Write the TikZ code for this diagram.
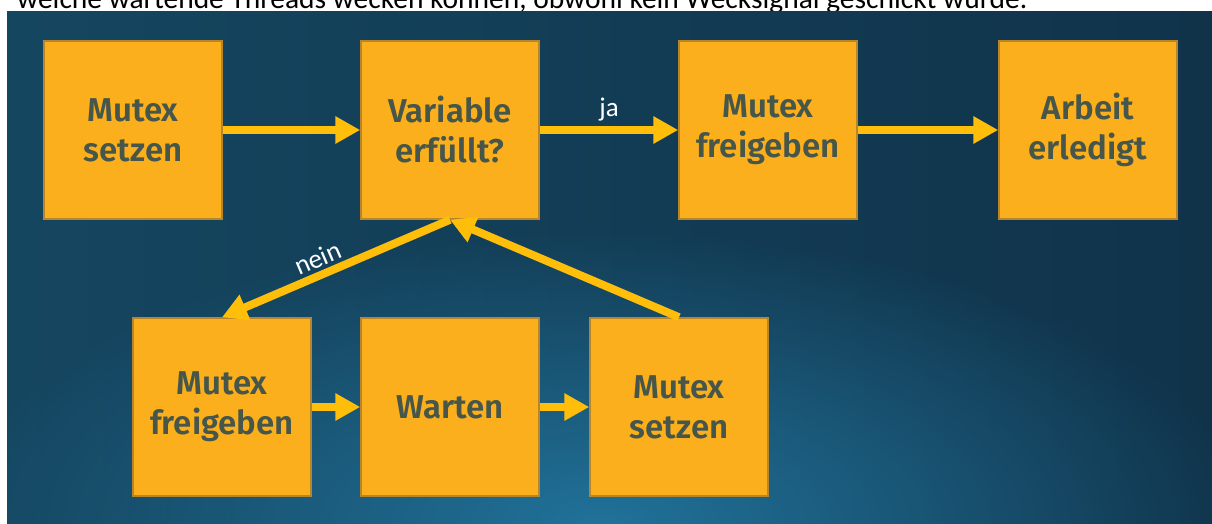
\documentclass[tikz,border=0pt]{standalone}
\usepackage{fontspec}
\setmainfont{Fira Sans}[BoldFont={Fira Sans SemiBold}]
\newfontfamily\labelfont{Carlito}
\usetikzlibrary{arrows.meta,fadings}
\definecolor{boxfill}{HTML}{FBAF1C}
\definecolor{boxline}{HTML}{B8862A}
\definecolor{boxtext}{HTML}{46564A}
\definecolor{arrowgold}{HTML}{FFBE0A}
\definecolor{bgleft}{HTML}{154660}
\definecolor{bgmid}{HTML}{164D6A}
\definecolor{bgright}{HTML}{10334A}
\definecolor{bgglow}{HTML}{21729A}
\tikzfading[name=glowfade, inner color=transparent!0, outer color=transparent!100]

\begin{document}
\begin{tikzpicture}[x=1pt, y=-1pt,
    stepbox/.style={draw=boxline, line width=1.5pt, fill=boxfill, minimum size=178pt, inner sep=0pt,
        align=center, text=boxtext, font=\fontsize{33}{40}\selectfont\bfseries},
    flow/.style={draw=arrowgold, line width=8pt, -{Triangle[length=25pt, width=26pt]}},
    answer/.style={text=white, font=\labelfont\fontsize{27}{30}\selectfont}]
    \useasboundingbox (0,0) rectangle (1212,523);
    \clip (0,0) rectangle (1212,523);
    \fill[white] (0,0) rectangle (1212,523);
    \node[anchor=base west, inner sep=0pt, font=\labelfont\fontsize{29.5}{31}\selectfont] (caption) at (17,8)
        {welche wartende Threads wecken können, obwohl kein Wecksignal geschickt wurde.};
    \begin{scope}
        \clip (7,11) rectangle (1212,523);
        \shade[left color=bgleft, middle color=bgmid, right color=bgright] (7,11) rectangle (1212,523);
        \fill[bgglow, path fading=glowfade] (-50,230) rectangle (1250,820);
    \end{scope}

    \node[stepbox] (lock1) at (133,130) {Mutex\\setzen};
    \node[stepbox] (check) at (450,130) {Variable\\erfüllt?};
    \node[stepbox] (unlock1) at (768,130) {Mutex\\freigeben};
    \node[stepbox] (done) at (1088,130) {Arbeit\\erledigt};
    \node[stepbox] (unlock2) at (222,407) {Mutex\\freigeben};
    \node[stepbox] (wait) at (450,407) {Warten};
    \node[stepbox] (lock2) at (679,407) {Mutex\\setzen};

    \draw[flow] (lock1) -- (check);
    \draw[flow] (check) -- node[answer, above, yshift=2pt] {ja} (unlock1);
    \draw[flow] (unlock1) -- (done);
    \draw[flow] (check.south) -- node[answer, above, sloped, pos=0.55] {nein} (unlock2.north);
    \draw[flow] (lock2.north) -- (check.south);
    \draw[flow] (unlock2) -- (wait);
    \draw[flow] (wait) -- (lock2);
\end{tikzpicture}
\end{document}
